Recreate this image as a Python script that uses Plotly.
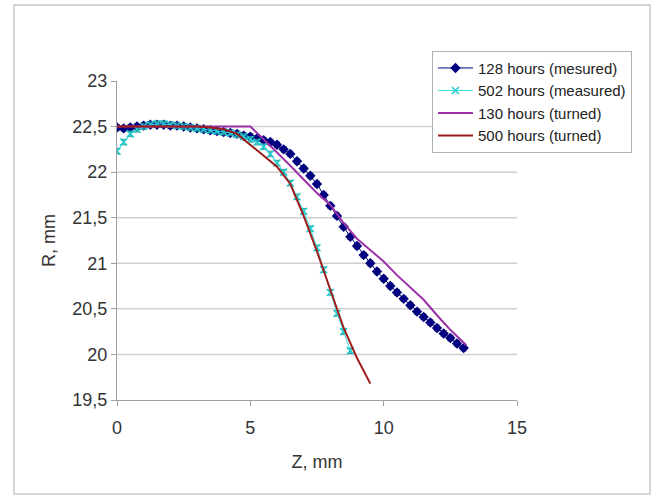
import plotly.graph_objects as go

# ---- data ----
z128 = [0, 0.25, 0.5, 0.75, 1.0, 1.25, 1.5, 1.75, 2.0, 2.25, 2.5, 2.75, 3.0, 3.25, 3.5, 3.75,
        4.0, 4.25, 4.5, 4.75, 5.0, 5.25, 5.5, 5.75, 6.0, 6.25, 6.5, 6.75, 7.0, 7.25, 7.5, 7.75,
        8.0, 8.25, 8.5, 8.75, 9.0, 9.25, 9.5, 9.75, 10.0, 10.25, 10.5, 10.75, 11.0, 11.25, 11.5,
        11.75, 12.0, 12.25, 12.5, 12.75, 13.0]
r128 = [22.49, 22.48, 22.49, 22.50, 22.51, 22.52, 22.52, 22.52, 22.51, 22.51, 22.50, 22.49,
        22.48, 22.47, 22.46, 22.45, 22.44, 22.43, 22.42, 22.40, 22.39, 22.37, 22.35, 22.33,
        22.30, 22.25, 22.20, 22.12, 22.04, 21.96, 21.87, 21.75, 21.63, 21.52, 21.40, 21.29,
        21.19, 21.09, 21.00, 20.91, 20.83, 20.75, 20.68, 20.61, 20.54, 20.47, 20.41, 20.35,
        20.29, 20.23, 20.18, 20.12, 20.07]

z502 = [0, 0.25, 0.5, 0.75, 1.0, 1.25, 1.5, 1.75, 2.0, 2.25, 2.5, 2.75, 3.0, 3.25, 3.5, 3.75,
        4.0, 4.25, 4.5, 4.75, 5.0, 5.25, 5.5, 5.75, 6.0, 6.25, 6.5, 6.75, 7.0, 7.25, 7.5, 7.75,
        8.0, 8.25, 8.5, 8.75]
r502 = [22.23, 22.33, 22.42, 22.47, 22.50, 22.52, 22.53, 22.53, 22.52, 22.51, 22.50, 22.49,
        22.48, 22.47, 22.46, 22.45, 22.44, 22.43, 22.41, 22.39, 22.36, 22.33, 22.28, 22.20,
        22.10, 22.00, 21.88, 21.73, 21.57, 21.38, 21.17, 20.93, 20.68, 20.45, 20.25, 20.04]

z130 = [0, 5.0, 5.5, 6.0, 6.5, 7.0, 7.5, 8.0, 8.5, 9.0, 9.5, 10.0, 10.5, 11.0, 11.5, 12.0, 12.5, 13.1]
r130 = [22.5, 22.5, 22.36, 22.22, 22.07, 21.92, 21.77, 21.64, 21.44, 21.27, 21.15, 21.02,
        20.87, 20.74, 20.60, 20.43, 20.27, 20.10]

z500 = [0, 1, 2, 3, 3.5, 4.0, 4.5, 5.0, 5.5, 6.0, 6.5, 7.0, 7.5, 8.0, 8.5, 9.0, 9.5]
r500 = [22.5, 22.5, 22.5, 22.5, 22.49, 22.47, 22.42, 22.30, 22.18, 22.06, 21.87, 21.52,
        21.13, 20.72, 20.29, 19.96, 19.68]

err128 = 0.03
err502 = 0.03

names = ["128 hours (mesured)", "502 hours (measured)", "130 hours (turned)", "500 hours (turned)"]
grid_vals = [20, 20.5, 21, 21.5, 22, 22.5]
x_ticks = [0, 5, 10, 15]
y_ticks = [19.5, 20, 20.5, 21, 21.5, 22, 22.5, 23]
y_ticktext = ["19,5", "20", "20,5", "21", "21,5", "22", "22,5", "23"]

FONT = "Liberation Sans, Arial, sans-serif"

fig = go.Figure()

fig.add_trace(go.Scatter(
    x=z128, y=r128, name=names[0], mode="lines+markers",
    line=dict(color="#000080", width=1),
    marker=dict(symbol="diamond", size=8, color="#000080"),
    error_y=dict(type="constant", value=err128, color="#505050", thickness=1, width=3),
))
fig.add_trace(go.Scatter(
    x=z502, y=r502, name=names[1], mode="lines+markers",
    line=dict(color="#33e0e0", width=1),
    marker=dict(symbol="x-thin", size=7, color="#22cccc", line=dict(width=1.5, color="#22cccc")),
    error_y=dict(type="constant", value=err502, color="#2a9a9a", thickness=1, width=3),
))
fig.add_trace(go.Scatter(
    x=z130, y=r130, name=names[2], mode="lines",
    line=dict(color="#9b30a8", width=2),
))
fig.add_trace(go.Scatter(
    x=z500, y=r500, name=names[3], mode="lines",
    line=dict(color="#9e1c1c", width=2),
))

# horizontal gridlines
for g in grid_vals:
    fig.add_shape(type="line", xref="paper", yref="y", x0=0, x1=1, y0=g, y1=g,
                  line=dict(color="#cfcfcf", width=1.5), layer="below")

# outer chart border
fig.add_shape(type="rect", xref="paper", yref="paper",
              x0=-0.2575, x1=1.3325, y0=-0.295, y1=1.238,
              line=dict(color="#c8c8c8", width=1.5), layer="below")

fig.update_layout(
    width=660, height=495,
    margin=dict(l=117, r=143, t=81, b=95),
    paper_bgcolor="white", plot_bgcolor="white",
    font=dict(family=FONT, size=18, color="#333333"),
    showlegend=True,
    legend=dict(
        x=0.7875, y=1.095, xanchor="left", yanchor="top",
        bgcolor="white", bordercolor="#b0b0b0", borderwidth=1,
        font=dict(family=FONT, size=15, color="#222222"),
        tracegroupgap=0, itemwidth=35,
    ),
    xaxis=dict(
        range=[0, 15], tickvals=x_ticks, showgrid=False, zeroline=False,
        showline=True, linecolor="#a0a0a0", linewidth=1,
        ticks="outside", ticklen=5, tickcolor="#a0a0a0", ticklabelstandoff=6,
        title=dict(text="Z, mm", font=dict(size=18), standoff=18),
        tickfont=dict(size=18),
    ),
    yaxis=dict(
        range=[19.5, 23], tickvals=y_ticks, ticktext=y_ticktext, showgrid=False, zeroline=False,
        showline=True, linecolor="#a0a0a0", linewidth=1,
        ticks="outside", ticklen=5, tickcolor="#a0a0a0",
        title=dict(text="R, mm", font=dict(size=18), standoff=12),
        tickfont=dict(size=18),
    ),
)

fig.write_html("out.html")
